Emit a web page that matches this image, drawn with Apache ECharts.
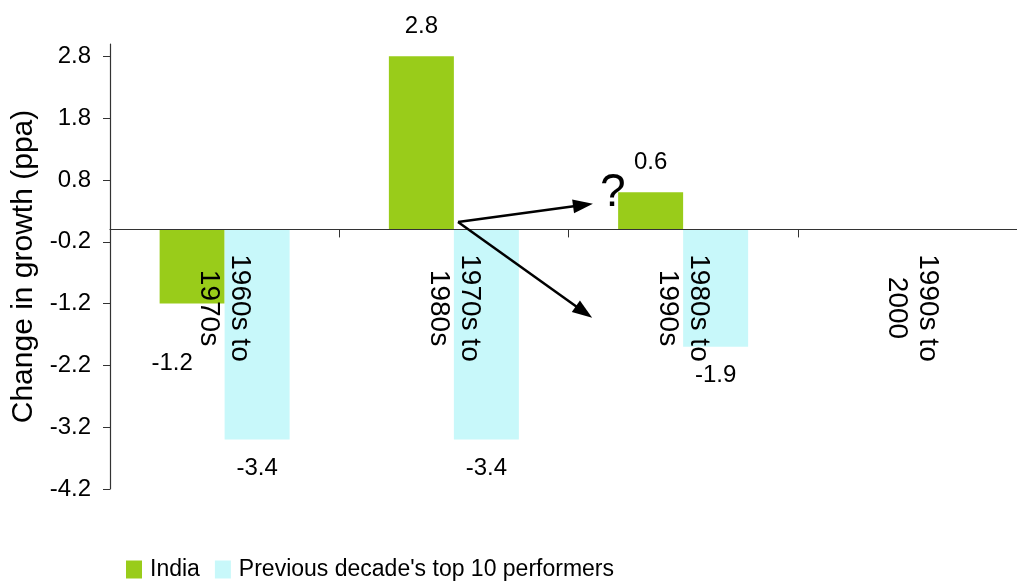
<!DOCTYPE html>
<html>
<head>
<meta charset="utf-8">
<script src="https://cdn.jsdelivr.net/npm/echarts@6/dist/echarts.min.js"></script>
<style>
  html, body { margin: 0; padding: 0; background: #fff; }
  #main { width: 1017px; height: 585px; }
</style>
</head>
<body>
<div id="main"></div>
<script>
// data
let categories = ["1960s to\n1970s", "1970s to\n1980s", "1980s to\n1990s", "1990s to\n2000"]
let india = [-1.2, 2.8, 0.6, null]
let previous = [-3.4, -3.4, -1.9, null]
let yTicks = [-4.2, -3.2, -2.2, -1.2, -0.2, 0.8, 1.8, 2.8]

let font = "Liberation Sans"

var myChart = echarts.init(document.getElementById('main'))

// india labels: above for positive, well below (and a bit left) for negative
let indiaData = india.map(v => {
  if (v == null) return null
  if (v < 0) return { value: v, label: { position: 'bottom', distance: 48, offset: [-20, 0] } }
  return { value: v, label: { position: 'top', distance: 18 } }
})

var option = {
  animation: false,
  textStyle: { fontFamily: font },
  grid: { left: 110, right: -10, top: 44, bottom: 96, outerBoundsMode: 'none', containLabel: false },
  legend: {
    left: 121, top: 553,
    icon: 'rect', itemWidth: 16, itemHeight: 18, itemGap: 15,
    textStyle: { fontFamily: font, fontSize: 23, color: '#000', padding: [0, 0, 0, 3] },
    data: ['India', "Previous decade's top 10 performers"]
  },
  xAxis: {
    type: 'category',
    data: categories,
    z: 10,
    axisLine: { onZero: true, lineStyle: { color: '#333', width: 1.2 } },
    axisTick: { show: true, length: 8, lineStyle: { color: '#333' } },
    axisLabel: {
      // labels sit just under the zero line, centred around y~308
      rotate: -90, align: 'center', verticalAlign: 'middle', margin: -181,
      padding: [8, 0, 0, 0],
      fontFamily: font, fontSize: 28, lineHeight: 31, color: '#000', interval: 0
    }
  },
  yAxis: {
    type: 'value',
    min: -4.2, max: 3.0,
    name: 'Change in growth (ppa)',
    nameLocation: 'middle', nameRotate: 90, nameGap: 70,
    nameTextStyle: { fontFamily: font, fontSize: 30, color: '#000' },
    axisLine: { show: true, lineStyle: { color: '#333', width: 1.2 } },
    axisTick: { show: true, length: 7, customValues: yTicks, lineStyle: { color: '#333' } },
    axisLabel: {
      customValues: yTicks, margin: 19,
      fontFamily: font, fontSize: 24, color: '#000',
      formatter: v => v.toFixed(1)
    },
    splitLine: { show: false }
  },
  graphic: [
    { type: 'text', left: 600, top: 170, z: 100, style: { text: '?', font: '46px "Liberation Sans"', fill: '#000' } }
  ],
  series: [
    {
      name: 'India', type: 'bar',
      barWidth: 65, barGap: '0%',
      itemStyle: { color: '#99CC1A' },
      label: {
        show: true, fontFamily: font, fontSize: 24, color: '#000',
        formatter: p => p.value.toFixed(1)
      },
      data: indiaData,
      markLine: {
        silent: true, animation: false, z: 20,
        symbol: ['none', 'triangle'], symbolSize: [14, 20],
        lineStyle: { color: '#000', width: 2.5, type: 'solid' },
        label: { show: false },
        data: [
          [{ x: 458, y: 222 }, { x: 583, y: 205 }],
          [{ x: 458, y: 222 }, { x: 584, y: 312 }]
        ]
      }
    },
    {
      name: "Previous decade's top 10 performers", type: 'bar',
      barWidth: 65, barGap: '0%',
      itemStyle: { color: '#C8F8FA' },
      label: {
        show: true, position: 'bottom', distance: 17,
        fontFamily: font, fontSize: 24, color: '#000',
        formatter: p => p.value.toFixed(1)
      },
      data: previous
    }
  ]
}

myChart.setOption(option)
</script>
</body>
</html>
